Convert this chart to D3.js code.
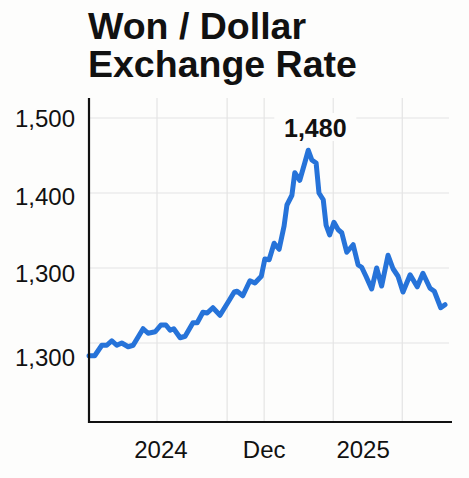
<!DOCTYPE html>
<html>
<head>
<meta charset="utf-8">
<script src="https://cdn.jsdelivr.net/npm/d3@7"></script>
<style>
  html, body { margin: 0; padding: 0; background: #fdfdfc; }
  svg { display: block; font-family: "Liberation Sans", Arial, Helvetica, sans-serif; }
</style>
</head>
<body>
<svg id="chart" width="469" height="478"></svg>
<script>
// Days since start of the series and the won/dollar rate.
const days = [0, 8, 18, 25, 32, 39, 46, 55, 62, 76, 83, 93, 101, 108, 114, 119, 128, 135,
  146, 152, 160, 166, 174, 184, 197, 204, 208, 216, 226, 233, 242, 247, 253, 260, 267,
  274, 278, 285, 289, 296, 303, 308, 313, 319, 323, 329, 333, 338, 344, 350, 355, 362,
  371, 378, 383, 389, 397, 404, 411, 420, 427, 434, 441, 451, 461, 469, 479, 485, 494, 500];
const rates = [1183, 1183, 1197, 1197, 1203, 1197, 1200, 1195, 1197, 1219, 1213, 1215, 1224,
  1224, 1217, 1219, 1207, 1209, 1227, 1227, 1241, 1240, 1247, 1237, 1257, 1268, 1269, 1263,
  1283, 1280, 1289, 1312, 1311, 1333, 1325, 1356, 1384, 1397, 1427, 1417, 1440, 1457, 1444,
  1440, 1400, 1391, 1357, 1344, 1361, 1351, 1347, 1321, 1331, 1304, 1301, 1289, 1272, 1300,
  1276, 1317, 1299, 1289, 1268, 1291, 1275, 1293, 1273, 1269, 1247, 1251];

const yGrid = [1500, 1400, 1300, 1200];
const yLabels = ["1,500", "1,400", "1,300", "1,300"];
const yLabelAt = [1500, 1395, 1293, 1181];

const xGrid = [95.5, 194, 246, 343, 440];
const xLabels = ["2024", "Dec", "2025"];
const xLabelAt = [101, 246, 385];

const peakLabel = "1,480";

const svg = d3.select("#chart");

const x = d3.scaleLinear().domain([0, 500]).range([89, 445]);
const y = d3.scaleLinear().domain([1200, 1500]).range([343, 118]);

const plotLeft = 89, plotRight = 449, plotTop = 98, plotBottom = 422;

// Title
const title = svg.append("text")
    .attr("x", 88)
    .attr("font-size", 37.5)
    .attr("font-weight", "bold")
    .attr("fill", "#111");
title.append("tspan").attr("x", 88).attr("y", 39).text("Won / Dollar");
title.append("tspan").attr("x", 88).attr("y", 77).text("Exchange Rate");

// Grid
svg.append("g")
    .selectAll("line")
    .data(yGrid)
  .join("line")
    .attr("x1", plotLeft)
    .attr("x2", plotRight)
    .attr("y1", d => y(d))
    .attr("y2", d => y(d))
    .attr("stroke", "#e4e4e4")
    .attr("stroke-width", 1.2);

svg.append("g")
    .selectAll("line")
    .data(xGrid)
  .join("line")
    .attr("x1", d => x(d))
    .attr("x2", d => x(d))
    .attr("y1", plotTop)
    .attr("y2", plotBottom)
    .attr("stroke", "#e4e4e4")
    .attr("stroke-width", 1.2);

// Y labels
svg.append("g")
    .selectAll("text")
    .data(yLabels)
  .join("text")
    .attr("x", 75)
    .attr("y", (d, i) => y(yLabelAt[i]))
    .attr("dy", "0.36em")
    .attr("text-anchor", "end")
    .attr("font-size", 24)
    .attr("fill", "#111")
    .text(d => d);

// X labels
svg.append("g")
    .selectAll("text")
    .data(xLabels)
  .join("text")
    .attr("x", (d, i) => x(xLabelAt[i]))
    .attr("y", 458)
    .attr("text-anchor", "middle")
    .attr("font-size", 24)
    .attr("fill", "#111")
    .text(d => d);

// Line
const series = days.map((d, i) => ({ day: d, rate: rates[i] }));
const line = d3.line()
    .x(d => x(d.day))
    .y(d => y(d.rate));

svg.append("path")
    .datum(series)
    .attr("d", line)
    .attr("fill", "none")
    .attr("stroke", "#2673d9")
    .attr("stroke-width", 5)
    .attr("stroke-linejoin", "round")
    .attr("stroke-linecap", "round");

// Peak label
const peak = series.reduce((a, b) => (b.rate > a.rate ? b : a));
const peakX = x(peak.day) + 7;
svg.append("rect")
    .attr("x", peakX - 41)
    .attr("y", 113)
    .attr("width", 82)
    .attr("height", 28)
    .attr("fill", "#fdfdfc");
svg.append("text")
    .attr("x", peakX)
    .attr("y", 137)
    .attr("text-anchor", "middle")
    .attr("font-size", 25)
    .attr("font-weight", 600)
    .attr("fill", "#111")
    .text(peakLabel);

// Axes lines
svg.append("line")
    .attr("x1", plotLeft).attr("x2", plotLeft)
    .attr("y1", plotTop).attr("y2", plotBottom + 1)
    .attr("stroke", "#111").attr("stroke-width", 2.2);
svg.append("line")
    .attr("x1", plotLeft - 1).attr("x2", 452)
    .attr("y1", plotBottom).attr("y2", plotBottom)
    .attr("stroke", "#111").attr("stroke-width", 2.2);
</script>
</body>
</html>
